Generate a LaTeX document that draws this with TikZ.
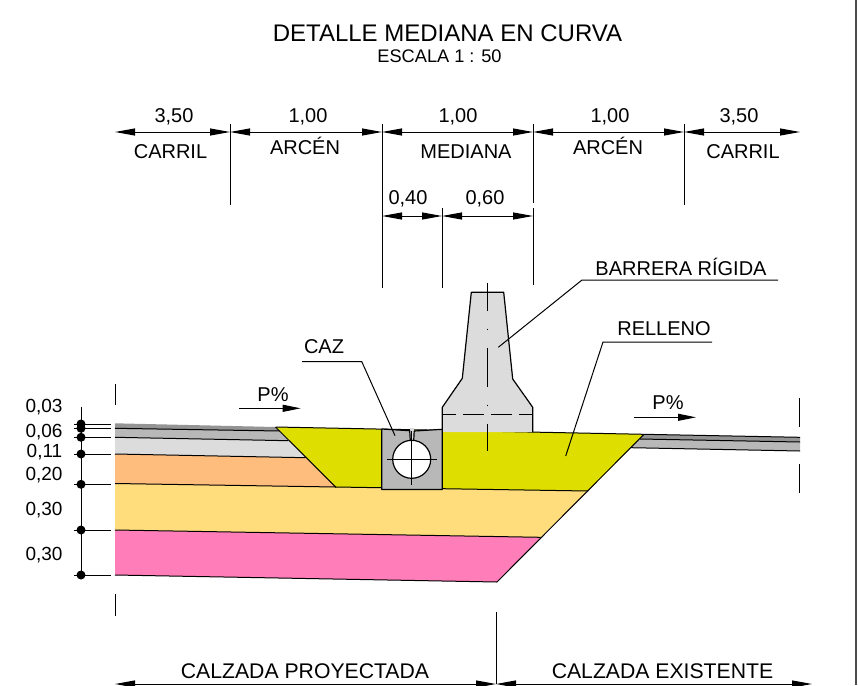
\documentclass[tikz,border=0pt]{standalone}
\usepackage{fontspec}
\setmainfont{Liberation Sans}
\usetikzlibrary{arrows.meta}
\definecolor{rosa}{HTML}{FF7DB8}
\definecolor{amarillo}{HTML}{FFDD7D}
\definecolor{naranja}{HTML}{FFBD7D}
\definecolor{gris}{HTML}{DCDCDC}
\definecolor{grismedio}{HTML}{B8B8B8}
\definecolor{grisoscuro}{HTML}{949494}
\definecolor{relleno}{HTML}{DEDE00}
\tikzset{
  dimline/.style={<->, >={Triangle[length=20pt,width=7pt]}, line width=1pt},
  tickline/.style={line width=.9pt},
  thinline/.style={line width=1pt},
  layer/.style={draw=black, line width=1.2pt, line join=round},
  dot/.style={circle, fill=black, inner sep=0pt, minimum size=9pt},
  label/.style={inner sep=0pt, font=\fontsize{20}{20}\selectfont},
  small/.style={inner sep=0pt, font=\fontsize{19}{19}\selectfont},
  large/.style={inner sep=0pt, font=\fontsize{21.2}{22}\selectfont},
}
\begin{document}
\begin{tikzpicture}[x=1pt, y=-1pt]
\useasboundingbox (0,0) rectangle (858,685);
\node[inner sep=0pt, font=\fontsize{24}{24}\selectfont] (title) at (447.5,33) {DETALLE MEDIANA EN CURVA};
\node[inner sep=0pt, font=\fontsize{18.2}{18}\selectfont] (scale) at (439.5,56) {ESCALA 1 : 50};
\coordinate (a0) at (115,132);
\coordinate (a1) at (230,132);
\coordinate (a2) at (382,132);
\coordinate (a3) at (533,132);
\coordinate (a4) at (684,132);
\coordinate (a5) at (800,132);
\coordinate (b0) at (382,216);
\coordinate (b1) at (442,216);
\coordinate (b2) at (533,216);
\draw[dimline] (a0) -- (a1);
\draw[dimline] (a1) -- (a2);
\draw[dimline] (a2) -- (a3);
\draw[dimline] (a3) -- (a4);
\draw[dimline] (a4) -- (a5);
\draw[dimline] (b0) -- (b1);
\draw[dimline] (b1) -- (b2);
\draw[tickline] (230,124) -- (230,205);
\draw[tickline] (382,124) -- (382,288);
\draw[tickline] (533,124) -- (533,203);
\draw[tickline] (684,124) -- (684,205);
\draw[tickline] (442,208) -- (442,288);
\draw[tickline] (533,208) -- (533,285);
\node[label] (w1) at (174,117) {3,50};
\node[label] (w2) at (308,117) {1,00};
\node[label] (w3) at (458,117) {1,00};
\node[label] (w4) at (610,117) {1,00};
\node[label] (w5) at (739,117) {3,50};
\node[label] (n1) at (170.5,152) {CARRIL};
\node[label] (n2) at (305,146) {ARCÉN};
\node[label] (n3) at (466,152) {MEDIANA};
\node[label] (n4) at (608,146) {ARCÉN};
\node[label] (n5) at (743,152) {CARRIL};
\node[label] (w6) at (408,199) {0,40};
\node[label] (w7) at (485,199) {0,60};
\fill[rosa] (115,530) -- (540.7,537.3) -- (497,582) -- (115,575) -- cycle;
\fill[amarillo] (115,483.5) -- (588,491) -- (540.7,537.3) -- (115,530) -- cycle;
\fill[naranja] (115,454) -- (305.5,457.7) -- (336,487.3) -- (115,483.5) -- cycle;
\fill[gris] (115,437.3) -- (288.3,440.7) -- (305.5,457.7) -- (115,454) -- cycle;
\fill[grismedio] (115,428.3) -- (279.5,431) -- (288.3,440.7) -- (115,437.3) -- cycle;
\fill[grisoscuro] (115,423.3) -- (275.5,427) -- (279.5,431) -- (115,428.3) -- cycle;
\fill[grismedio] (640,439) -- (800,442) -- (800,451) -- (631,447.7) -- cycle;
\fill[grisoscuro] (644,434.3) -- (800,437.3) -- (800,442) -- (640,439) -- cycle;
\fill[relleno] (275.5,427) -- (644,434.3) -- (588,491) -- (336,487.3) -- cycle;
\draw[thinline] (115,428.3) -- (279.5,431);
\draw[thinline] (115,437.3) -- (288.3,440.7);
\draw[thinline] (115,454) -- (305.5,457.7);
\draw[thinline] (115,483.5) -- (588,491);
\draw[thinline] (115,530) -- (540.7,537.3);
\draw[thinline] (115,575) -- (497,582);
\draw[thinline] (275.5,427) -- (644,434.3);
\draw[thinline] (275.5,427) -- (336,487.3);
\draw[thinline] (644,434.3) -- (497,582);
\draw[thinline] (644,434.3) -- (800,437.3);
\draw[thinline] (640,439) -- (800,442);
\draw[thinline] (631,447.7) -- (800,451);
\draw[layer, fill=gris] (442.3,432) -- (442.3,407.3) -- (462.3,378.3) -- (471.3,292.3) -- (503.7,292.3) -- (512.7,379) -- (532.7,407.3) -- (532.7,432);
\draw[thinline, dash pattern=on 21pt off 7pt, dash phase=7pt] (442.3,414) -- (532.7,414);
\draw[thinline, dash pattern=on 39pt off 18pt on 1pt off 18pt, dash phase=11pt] (487,282.7) -- (487,450.7);
\fill[gris] (409.5,428) rectangle (414,441);
\fill[grismedio] (381.7,429) -- (409.7,430.7) -- (410.3,441) -- (413.7,441) -- (414.2,431) -- (442.3,429.3) -- (442.3,489.5) -- (381.7,489.5) -- cycle;
\draw[layer] (381.7,429) -- (409.7,430.7) -- (410.3,441);
\draw[layer] (413.7,441) -- (414.2,431) -- (442.3,429.3) -- (442.3,489.5) -- (381.7,489.5) -- (381.7,429);
\node[circle, draw=black, fill=white, line width=1.2pt, inner sep=0pt, minimum size=38pt] (tubo) at (411.7,459.3) {};
\draw[thinline] (386.7,459.3) -- (437.3,459.3);
\draw[thinline] (411.7,431) -- (411.7,485);
\node[label] (caz) at (324,347) {CAZ};
\node[label] (barrera) at (681,267) {BARRERA RÍGIDA};
\node[label] (rell) at (664,329) {RELLENO};
\coordinate (c1) at (302,361.5);
\coordinate (c2) at (361.7,361.5);
\coordinate (c3) at (395,435.7);
\coordinate (d1) at (778,280);
\coordinate (d2) at (582,280);
\coordinate (d3) at (498.3,347.3);
\coordinate (e1) at (712,342);
\coordinate (e2) at (603,342);
\coordinate (e3) at (565.7,456);
\draw[thinline] (c1) -- (c2) -- (c3);
\draw[thinline] (d1) -- (d2) -- (d3);
\draw[thinline] (e1) -- (e2) -- (e3);
\node[label] (p1) at (273,395) {P\%};
\node[label] (p2) at (668,403) {P\%};
\coordinate (p1a) at (239,408.3);
\coordinate (p1b) at (300.7,408.3);
\coordinate (p2a) at (634.3,417.3);
\coordinate (p2b) at (696,417.3);
\draw[thinline, ->, >={Triangle[length=18pt,width=7pt]}] (p1a) -- (p1b);
\draw[thinline, ->, >={Triangle[length=18pt,width=7pt]}] (p2a) -- (p2b);
\draw[tickline] (115,384) -- (115,405);
\draw[tickline] (115,594) -- (115,616);
\draw[tickline] (799.5,398) -- (799.5,427);
\draw[tickline] (799.5,464) -- (799.5,493);
\draw[tickline] (81,406.7) -- (81,575);
\foreach \name/\yy in {s0/424,s1/428.3,s2/437.3,s3/454,s4/484.3,s5/530,s6/575} {
  \node[dot] (\name) at (81,\yy) {};
  \draw[tickline] (74,\yy) -- (111,\yy);
}
\node[small] (t1) at (44,406.7) {0,03};
\node[small] (t2) at (44,431.7) {0,06};
\node[small] (t3) at (44.5,451.7) {0,11};
\node[small] (t4) at (44,475) {0,20};
\node[small] (t5) at (44,510) {0,30};
\node[small] (t6) at (44,555) {0,30};
\coordinate (f0) at (115,684);
\coordinate (f1) at (496,684);
\coordinate (f2) at (812,684);
\draw[dimline] (f0) -- (f1);
\draw[dimline] (f1) -- (f2);
\draw[tickline] (496,611.7) -- (f1);
\node[large] (g1) at (305,671) {CALZADA PROYECTADA};
\node[large] (g2) at (662.5,671) {CALZADA EXISTENTE};
\draw[line width=2pt, black!70] (855.5,0) -- (855.5,685);
\end{tikzpicture}
\end{document}
